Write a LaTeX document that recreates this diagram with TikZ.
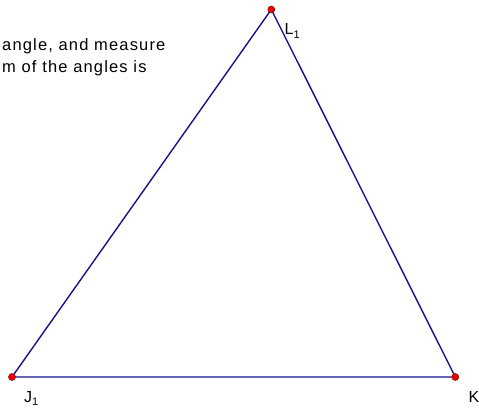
\documentclass[tikz,border=0pt]{standalone}
\usepackage{fontspec}
\setmainfont{Liberation Sans}[LetterSpace=7]
\newfontfamily\lblfont{Liberation Sans}
\definecolor{edgeblue}{RGB}{20,20,140}
\definecolor{ptred}{RGB}{235,0,0}
\begin{document}
\begin{tikzpicture}[x=1pt,y=1pt,
  edge/.style={draw=edgeblue,line width=1.4pt},
  pt/.style={circle,fill=ptred,draw=ptred!60!black,line width=0.5pt,inner sep=0pt,minimum size=7pt},
  lbl/.style={anchor=base west,inner sep=0pt,font=\lblfont\fontsize{16}{16}\selectfont},
  txt/.style={anchor=base west,inner sep=0pt,font=\fontsize{16.5}{16.5}\selectfont}]
\useasboundingbox (0,0) rectangle (479,410);
\coordinate (J) at (12,33);
\coordinate (K) at (455.3,33);
\coordinate (L) at (271.3,400.5);
\draw[edge] (J) -- (K) -- (L) -- cycle;
\node[pt] (pJ) at (J) {};
\node[pt] (pK) at (K) {};
\node[pt] (pL) at (L) {};
\node[lbl] (lL) at (284.5,375) {L\raisebox{-3.5pt}{\fontsize{11}{11}\selectfont 1}};
\node[lbl] (lJ) at (24,8) {J\raisebox{-3.5pt}{\fontsize{11}{11}\selectfont 1}};
\node[lbl] (lK) at (468.5,8) {K};
\node[txt] (t1) at (2,359.5) {angle, and measure};
\node[txt] (t2) at (2,337.5) {m of the angles is};
\end{tikzpicture}
\end{document}
